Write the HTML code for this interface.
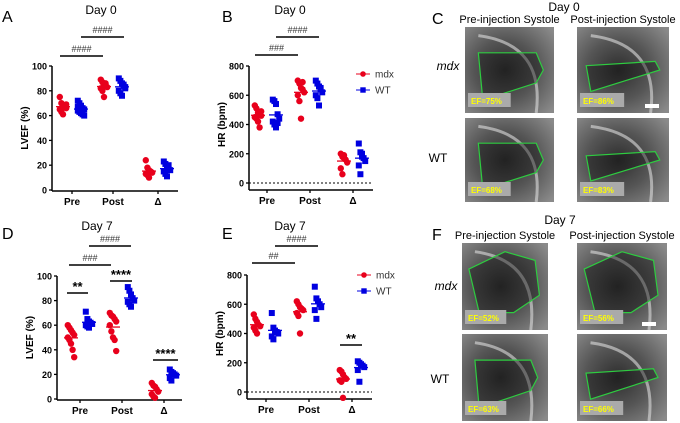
<!DOCTYPE html>
<html><head><meta charset="utf-8"><style>
html,body{margin:0;padding:0;background:#fff;}
svg{display:block;font-family:"Liberation Sans",sans-serif;}
</style></head><body>
<svg id="fig" width="680" height="423" viewBox="0 0 680 423">
<defs>
<radialGradient id="us" cx="45%" cy="50%" r="70%">
<stop offset="0" stop-color="#2e2e2e"/><stop offset="0.5" stop-color="#555"/><stop offset="1" stop-color="#8a8a8a"/>
</radialGradient>
</defs>
<g id="charts"></g>
<g id="images"></g>
</svg>
<script>
const NS="http://www.w3.org/2000/svg";
const groups=["Pre","Post","Δ"];
// Panel A: LVEF day 0
const aMdx=[[75,70,68,67,66,65,63,61,68,69],[89,87,85,84,83,82,80,75,86],[24,18,16,15,14,13,12,10]];
const aWT=[[72,70,68,66,65,64,63,62,61,60,67],[90,88,86,84,82,80,78,76,85,83],[23,21,19,17,16,15,13,11,20]];
// Panel B: HR day 0
const bMdx=[[530,510,480,470,460,450,440,420,380,490],[700,680,650,640,620,600,560,440,690],[200,180,170,160,140,100,60,190]];
const bWT=[[570,560,540,470,440,420,400,380,410],[700,680,660,640,620,600,580,530,650],[270,210,200,170,150,120,60,180]];
// Panel D: LVEF day 7
const dMdx=[[60,58,56,54,52,50,48,45,40,34],[70,68,67,65,63,60,55,50,48,39],[13,11,10,8,6,4,2,1]];
const dWT=[[71,65,63,62,61,60,59,58],[91,88,85,82,80,79,77,75],[24,22,21,20,19,17,15]];
// Panel E: HR day 7
const eMdx=[[530,500,480,460,450,440,420,400],[620,600,580,570,560,540,520,400],[150,140,120,100,90,80,70,-40]];
const eWT=[[540,440,420,410,400,380,360],[720,640,620,600,580,560,500],[210,200,190,180,170,150,70]];
const lvefTicks=[0,20,40,60,80,100];
const hrTicks=[0,200,400,600,800];

function el(tag,attrs,parent,text){const e=document.createElementNS(NS,tag);for(const k in attrs)e.setAttribute(k,attrs[k]);if(text!==undefined)e.textContent=text;parent.appendChild(e);return e;}
const root=document.getElementById('charts');

function chart(cfg){
  const g=el('g',{},root);
  
  
  const y=v=>cfg.y0-(v-cfg.min)/(cfg.max-cfg.min)*(cfg.y0-cfg.y1);
  const xc=i=>cfg.xs[i];
  const ya=el('line',{x1:cfg.ax,y1:y(cfg.max),x2:cfg.ax,y2:cfg.bot,stroke:'#000','stroke-width':1.5},g);
  
  const xa=el('line',{x1:cfg.ax,y1:cfg.bot,x2:cfg.axEnd,y2:cfg.bot,stroke:'#000','stroke-width':1.5},g);
  
  cfg.ticks.forEach(t=>{
    el('line',{x1:cfg.ax-3,y1:y(t),x2:cfg.ax,y2:y(t),stroke:'#000','stroke-width':1.3},g);
    const tl=el('text',{x:cfg.ax-5,y:y(t)+3.5,'font-size':9,'font-weight':'bold','text-anchor':'end'},g,String(t));
    
  });
  if(cfg.dotted){el('line',{x1:cfg.ax,y1:y(0),x2:cfg.axEnd,y2:y(0),stroke:'#000','stroke-width':1,'stroke-dasharray':'2,2'},g);}
  groups.forEach((n,i)=>{
    el('line',{x1:xc(i),y1:cfg.bot,x2:xc(i),y2:cfg.bot+3,stroke:'#000','stroke-width':1.3},g);
    const tl=el('text',{x:xc(i),y:cfg.bot+14,'font-size':10,'font-weight':'bold','text-anchor':'middle'},g,n);
    
  });
  const yt=el('text',{transform:`translate(${cfg.ax-24},${(y(cfg.max)+cfg.y0)/2}) rotate(-90)`,'font-size':10,'font-weight':'bold','text-anchor':'middle'},g,cfg.ylabel);
  
  [[cfg.mdx,'#e8001c',-9,'circle'],[cfg.wt,'#0000e0',9,'square']].forEach(([ser,col,off,shape])=>{
    ser.forEach((vals,i)=>{
      const cx=xc(i)+off;
      vals.forEach((v,j)=>{
        const jit=((j%5)-2)*1.6;
        let m;
        if(shape==='circle'){m=el('circle',{cx:cx+jit,cy:y(v),r:3.2,fill:col},g);}
        else{m=el('rect',{x:cx+jit-3,y:y(v)-3,width:6,height:6,fill:col},g);}
        
        
      });
      const mean=vals.reduce((a,b)=>a+b,0)/vals.length;
      const ml=el('line',{x1:cx-7,y1:y(mean),x2:cx+7,y2:y(mean),stroke:col,'stroke-width':1.3},g);
      
    });
  });
  const tt=el('text',{x:cfg.tx,y:cfg.ty,'font-size':12,'text-anchor':'middle'},g,cfg.title);
  
  const lt=el('text',{x:cfg.lx,y:cfg.ly,'font-size':16},g,cfg.letter);
  
  cfg.sig.forEach(s=>{
    const b=el('line',{x1:s[0],y1:s[2],x2:s[1],y2:s[2],stroke:'#000','stroke-width':1.5},g);
    
    const star=s[3].indexOf('*')>=0;
    const t=el('text',{x:(s[0]+s[1])/2,y:s[2]-(star?2:4),'font-size':star?13:9,'font-weight':star?'bold':'normal','text-anchor':'middle',fill:star?'#000':'#333'},g,s[3]);
    
  });
  if(cfg.legend){
    [['mdx','#e8001c','circle',cfg.legend[1]],['WT','#0000e0','square',cfg.legend[1]+16]].forEach(([n,c,sh,ly])=>{
      const lg=el('g',{},g);
      el('line',{x1:cfg.legend[0]-7,y1:ly,x2:cfg.legend[0]+7,y2:ly,stroke:c,'stroke-width':1},lg);
      if(sh==='circle')el('circle',{cx:cfg.legend[0],cy:ly,r:2.8,fill:c},lg);else el('rect',{x:cfg.legend[0]-2.7,y:ly-2.7,width:5.4,height:5.4,fill:c},lg);
      el('text',{x:cfg.legend[0]+12,y:ly+3.5,'font-size':10,fill:'#333'},lg,n);
    });
  }
}
chart({name:'chart-a-lvef-day0',letter:'A',lx:2,ly:22,title:'Day 0',tx:101,ty:14,ax:52,axEnd:178,bot:191,y0:190,y1:66,min:0,max:100,ticks:lvefTicks,xs:[72,113,158],ylabel:'LVEF (%)',mdx:aMdx,wt:aWT,sig:[[60,103,56,'####'],[81,124,37,'####']]});
chart({name:'chart-b-hr-day0',letter:'B',lx:222,ly:22,title:'Day 0',tx:290,ty:14,ax:249,axEnd:373,bot:190,y0:183,y1:66,min:0,max:800,ticks:hrTicks,xs:[267,310,353],ylabel:'HR (bpm)',mdx:bMdx,wt:bWT,dotted:true,legend:[363,74],sig:[[255,298,55,'###'],[276,319,37,'####']]});
chart({name:'chart-d-lvef-day7',letter:'D',lx:2,ly:239,title:'Day 7',tx:97,ty:230,ax:57,axEnd:182,bot:400,y0:399,y1:276,min:0,max:100,ticks:lvefTicks,xs:[80,122,164],ylabel:'LVEF (%)',mdx:dMdx,wt:dWT,sig:[[69,111,265,'###'],[89,131,246,'####'],[67,88,293,'**'],[110,132,281,'****'],[153,178,360,'****']]});
chart({name:'chart-e-hr-day7',letter:'E',lx:222,ly:239,title:'Day 7',tx:290,ty:230,ax:247,axEnd:372,bot:399,y0:392,y1:275,min:0,max:800,ticks:hrTicks,xs:[266,309,352],ylabel:'HR (bpm)',mdx:eMdx,wt:eWT,dotted:true,legend:[364,275],sig:[[252,295,263,'##'],[275,318,246,'####'],[340,362,345,'**']]});

const img=document.getElementById('images');
function panel(letter,lx,ly,title,tx,ty,imgs,rows){
  const g=el('g',{},img);
  
  
  el('text',{x:lx,y:ly,'font-size':16},g,letter);
  el('text',{x:tx,y:ty,'font-size':12,'text-anchor':'middle'},g,title);
  el('text',{x:(imgs[0][0]+imgs[0][2]/2),y:imgs[0][1]-4,'font-size':11,'text-anchor':'middle'},g,'Pre-injection Systole');
  el('text',{x:(imgs[1][0]+imgs[1][2]/2),y:imgs[1][1]-4,'font-size':11,'text-anchor':'middle'},g,'Post-injection Systole');
  el('text',{x:rows[0][0],y:rows[0][1],'font-size':12,'font-style':'italic','text-anchor':'middle'},g,'mdx');
  el('text',{x:rows[1][0],y:rows[1][1],'font-size':12,'text-anchor':'middle'},g,'WT');
  imgs.forEach(([x,y,w,h,ef,poly])=>{
    const ig=el('g',{},g);
    
    
    el('rect',{x,y,width:w,height:h,fill:'url(#us)'},ig);
    el('path',{d:`M${x+w*0.15} ${y+h*0.1} Q${x+w*0.9} ${y+h*0.2} ${x+w*0.8} ${y+h}`,stroke:'#ddd','stroke-width':3,fill:'none',opacity:0.6},ig);
    el('polygon',{points:poly.map(p=>(x+p[0]*w)+','+(y+p[1]*h)).join(' '),fill:'#111',stroke:'#2ecc40','stroke-width':1.2,'fill-opacity':0.4},ig);
    el('rect',{x:x+3,y:y+h-20,width:w*0.48,height:14,fill:'#aaa'},ig);
    el('text',{x:x+6,y:y+h-9,'font-size':8,'font-weight':'bold',fill:'#ff0'},ig,ef);
  });
}
const p1=[[0.15,0.3],[0.8,0.3],[0.88,0.5],[0.8,0.65],[0.2,0.85]];
const p2=[[0.1,0.45],[0.85,0.4],[0.9,0.5],[0.15,0.75]];
const p3=[[0.08,0.3],[0.5,0.1],[0.85,0.2],[0.9,0.6],[0.6,0.8],[0.2,0.8]];
panel('C',432,24,'Day 0',564,11,
 [[465,27,89,86,'EF=75%',p1],[577,27,92,86,'EF=86%',p2],[465,118,89,84,'EF=68%',p1],[577,118,92,84,'EF=83%',p2]],
 [[448,70],[438,162]]);
panel('F',432,240,'Day 7',560,224,
 [[462,243,86,87,'EF=52%',p3],[577,243,90,87,'EF=56%',p3],[462,334,86,87,'EF=63%',p1],[577,334,90,87,'EF=66%',p2]],
 [[446,290],[440,383]]);
el('rect',{x:645,y:104,width:14,height:4,fill:'#fff'},img);
el('rect',{x:642,y:322,width:14,height:4,fill:'#fff'},img);
</script>
</body></html>
